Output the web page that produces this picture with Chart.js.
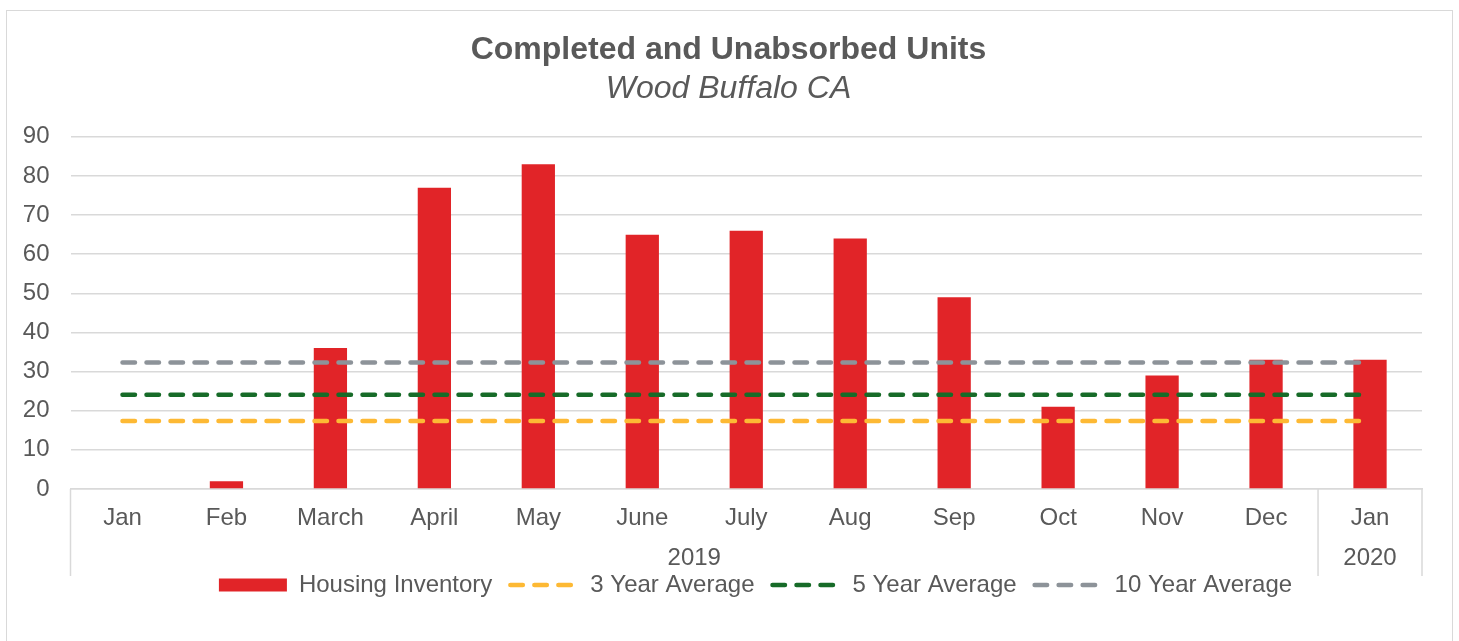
<!DOCTYPE html>
<html>
<head>
<meta charset="utf-8">
<script src="https://cdn.jsdelivr.net/npm/chart.js@4/dist/chart.umd.min.js"></script>
<style>
  body { margin: 0; background: #fff; }
  #wrap { position: relative; width: 1459px; height: 641px; overflow: hidden; }
  #frame { position: absolute; left: 6px; top: 10px; width: 1447px; height: 700px; border: 1px solid #d9d9d9; box-sizing: border-box; }
  canvas { position: absolute; left: 0; top: 0; }
</style>
</head>
<body>
<div id="wrap">
  <div id="frame"></div>
  <canvas id="myChart" width="1459" height="641"></canvas>
</div>
<script>
const months = ["Jan", "Feb", "March", "April", "May", "June", "July", "Aug", "Sep", "Oct", "Nov", "Dec", "Jan"];
const years = ["2019", "2020"];
const yearSpans = [12, 1];

const housingInventory = [0, 2, 36, 77, 83, 65, 66, 64, 49, 21, 29, 33, 33];
const threeYearAvg = [17.4, 17.4, 17.4, 17.4, 17.4, 17.4, 17.4, 17.4, 17.4, 17.4, 17.4, 17.4, 17.4];
const fiveYearAvg = [24.1, 24.1, 24.1, 24.1, 24.1, 24.1, 24.1, 24.1, 24.1, 24.1, 24.1, 24.1, 24.1];
const tenYearAvg = [32.3, 32.3, 32.3, 32.3, 32.3, 32.3, 32.3, 32.3, 32.3, 32.3, 32.3, 32.3, 32.3];

const yMin = 0;
const yMax = 90;
const yStep = 10;

const textColor = "#595959";
const gridColor = "#d9d9d9";
const legendShift = 33;
const titleShift = 6;

Chart.defaults.font.family = "'Liberation Sans', Arial, sans-serif";
Chart.defaults.color = textColor;

// second row of the x axis: year labels + the separator lines
const yearGroups = {
  id: "yearGroups",
  afterDraw(chart) {
    const x = chart.scales.x;
    const ctx = chart.ctx;
    const step = x.width / months.length;
    const top = chart.chartArea.bottom;
    const edges = [x.left];
    ctx.save();
    ctx.fillStyle = textColor;
    ctx.font = "24px 'Liberation Sans', Arial, sans-serif";
    ctx.textAlign = "center";
    ctx.textBaseline = "middle";
    let start = 0;
    years.forEach((yr, i) => {
      const end = start + yearSpans[i];
      const left = x.getPixelForValue(start) - step / 2;
      const right = x.getPixelForValue(end - 1) + step / 2;
      ctx.fillText(yr, (left + right) / 2, top + 69);
      edges.push(right);
      start = end;
    });
    ctx.strokeStyle = gridColor;
    ctx.lineWidth = 1.5;
    edges.forEach((e) => {
      ctx.beginPath();
      ctx.moveTo(e, top);
      ctx.lineTo(e, top + 87);
      ctx.stroke();
    });
    ctx.restore();
  },
};

// excel puts the titles and legend a bit right of centre
const nudgeBoxes = {
  id: "nudgeBoxes",
  afterLayout(chart) {
    chart.boxes.forEach((box) => {
      let dx = 0;
      if (box === chart.legend) dx = legendShift;
      else if (box.position === "top") dx = titleShift;
      box.left += dx;
      box.right += dx;
    });
  },
};

const dashed = (label, data, color, order) => ({
  type: "line",
  label: label,
  data: data,
  order: order,
  borderColor: color,
  backgroundColor: color,
  borderWidth: 4.5,
  borderDash: [12.5, 11.5],
  borderCapStyle: "round",
  pointRadius: 0,
  pointStyle: "line",
  fill: false,
});

new Chart(document.getElementById("myChart"), {
  type: "bar",
  data: {
    labels: months,
    datasets: [
      {
        label: "Housing Inventory",
        data: housingInventory,
        order: 5,
        backgroundColor: "#e12428",
        borderWidth: 0,
        categoryPercentage: 1,
        barPercentage: 0.32,
        pointStyle: "rect",
      },
      dashed("3 Year Average", threeYearAvg, "#fdb934", 3),
      dashed("5 Year Average", fiveYearAvg, "#176b28", 2),
      dashed("10 Year Average", tenYearAvg, "#8d9399", 1),
    ],
  },
  options: {
    responsive: false,
    animation: false,
    layout: { padding: { top: 10, left: 23, right: 37, bottom: 34 } },
    plugins: {
      tooltip: { enabled: false },
      title: {
        display: true,
        text: "Completed and Unabsorbed Units",
        color: textColor,
        font: { size: 32, weight: "bold" },
        padding: { top: 21, bottom: 0 },
      },
      subtitle: {
        display: true,
        text: "Wood Buffalo CA",
        color: textColor,
        font: { size: 32, style: "italic", weight: "normal" },
        padding: { top: 0, bottom: 29 },
      },
      legend: {
        position: "bottom",
        labels: {
          usePointStyle: true,
          pointStyleWidth: 68,
          boxHeight: 13,
          padding: 18,
          color: textColor,
          font: { size: 24 },
          sort: (a, b) => a.datasetIndex - b.datasetIndex,
          generateLabels: (chart) => {
            const items = Chart.defaults.plugins.legend.labels.generateLabels(chart);
            items.forEach((item) => {
              const ds = chart.data.datasets[item.datasetIndex];
              if (ds.type === "line") {
                item.lineDash = ds.borderDash;
                item.lineCap = ds.borderCapStyle;
                item.lineWidth = ds.borderWidth;
                item.strokeStyle = ds.borderColor;
              }
            });
            return items;
          },
        },
      },
    },
    scales: {
      x: {
        grid: { display: false, drawTicks: false },
        border: { display: true, color: gridColor, width: 1.5 },
        ticks: { padding: 15, color: textColor, font: { size: 24 } },
        afterFit: (scale) => {
          scale.height = 66;
        },
      },
      y: {
        min: yMin,
        max: yMax,
        grid: { color: gridColor, lineWidth: 1.5, drawTicks: false },
        border: { display: false },
        ticks: { stepSize: yStep, padding: 21, color: textColor, font: { size: 24 } },
        afterFit: (scale) => {
          scale.width = 47.5;
        },
      },
    },
  },
  plugins: [yearGroups, nudgeBoxes],
});
</script>
</body>
</html>
